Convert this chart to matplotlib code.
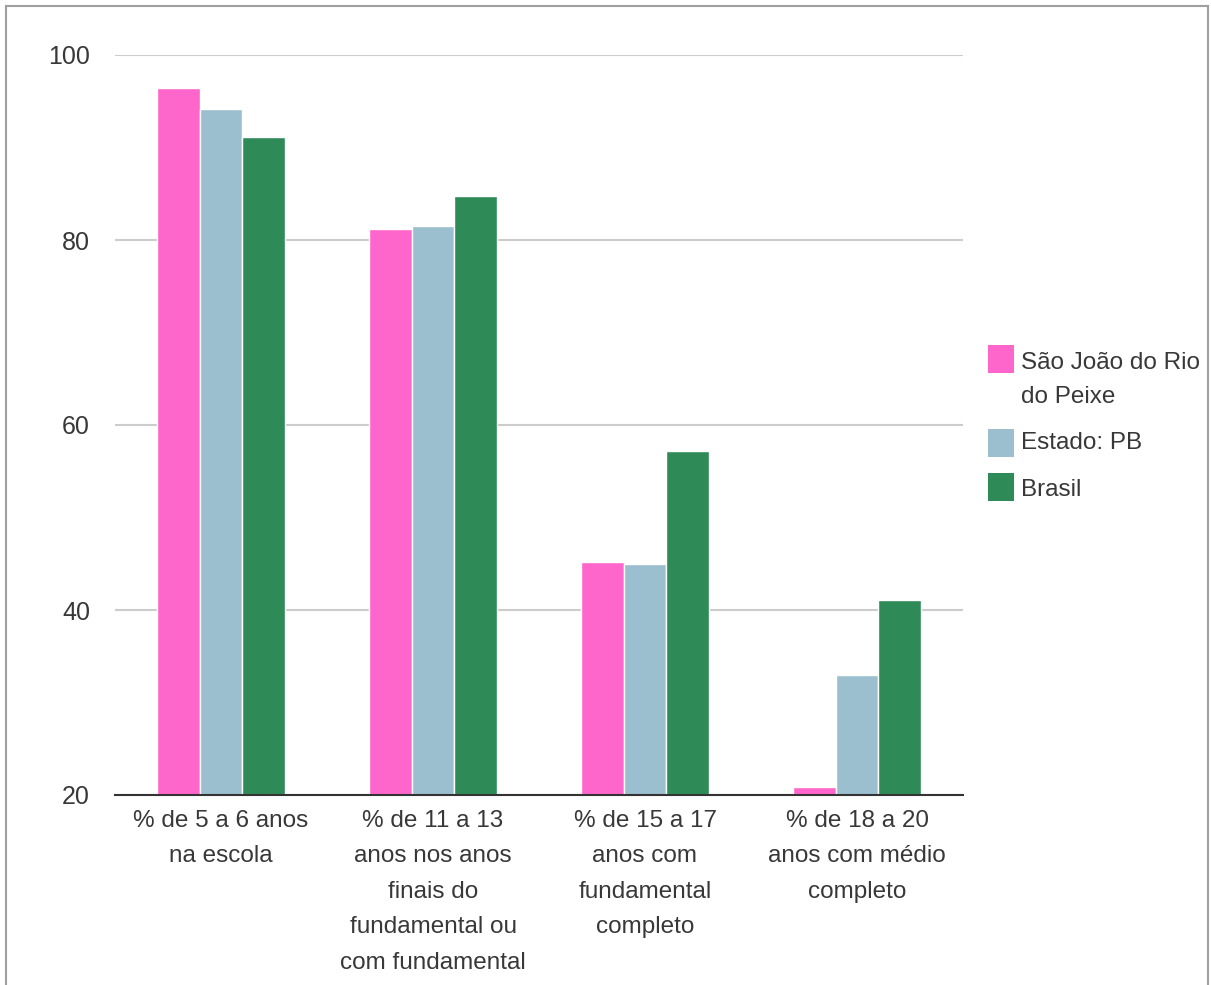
import numpy as np
import matplotlib
matplotlib.use('Agg')
import matplotlib.pyplot as plt
from matplotlib.patches import Rectangle
from matplotlib.lines import Line2D

categories = [
    "% de 5 a 6 anos\nna escola",
    "% de 11 a 13\nanos nos anos\nfinais do\nfundamental ou\ncom fundamental",
    "% de 15 a 17\nanos com\nfundamental\ncompleto",
    "% de 18 a 20\nanos com médio\ncompleto",
]
series = ["São João do Rio\ndo Peixe", "Estado: PB", "Brasil"]
sao_joao = [96.4, 81.2, 45.2, 20.9]
estado_pb = [94.2, 81.5, 45.0, 33.0]
brasil = [91.1, 84.8, 57.2, 41.1]
colors = ["#FF66CC", "#9BBFCE", "#2E8B57"]
yticks = [20, 40, 60, 80, 100]

plt.rcParams['font.family'] = ['Liberation Sans', 'DejaVu Sans']
txt = '#383838'
fs = 17.5

fig = plt.figure(figsize=(12.11, 9.85), dpi=100)
ax = fig.add_axes([115/1211, 1 - 795/985, (963-115)/1211, (795-55)/985])

x = np.arange(len(categories))
w = 0.2
for i, (vals, c) in enumerate(zip([sao_joao, estado_pb, brasil], colors)):
    ax.bar(x + (i - 1) * w, np.array(vals) - 20, width=w, bottom=20,
           color=c, edgecolor='white', linewidth=1, zorder=3)

ax.set_xlim(-0.5, len(categories) - 0.5)
ax.set_ylim(20, 100)
ax.set_yticks(yticks)
ax.set_yticklabels([str(t) for t in yticks], fontsize=18, color=txt)
ax.yaxis.grid(True, color='#CCCCCC', linewidth=1.5, zorder=0)
ax.set_axisbelow(True)
ax.set_xticks(x)
ax.set_xticklabels(categories, fontsize=fs, color=txt, va='top')
for t in ax.get_xticklabels():
    t.set_linespacing(1.8)
ax.tick_params(axis='both', length=0)
ax.tick_params(axis='y', pad=18)
ax.tick_params(axis='x', pad=10.5)
for s in ['top', 'right', 'left']:
    ax.spines[s].set_visible(False)
ax.spines['bottom'].set_color('#333333')
ax.spines['bottom'].set_linewidth(1.5)
ax.spines['bottom'].set_zorder(4)

# legend drawn by hand so that the swatch sits on the first text line
leg_y = [359, 443, 487]
text_y = [360, 440, 487]
for name, c, yy, ty in zip(series, colors, leg_y, text_y):
    fig.patches.append(Rectangle((988/1211, 1 - (yy + 14)/985), 26/1211, 28/985,
                                 transform=fig.transFigure, facecolor=c,
                                 edgecolor='none'))
    fig.text(1021/1211, 1 - (ty - 8)/985, name, fontsize=fs, color=txt,
             va='top', ha='left', linespacing=1.7)

# outer frame
for xs, ys in [([6, 6], [6, 985]), ([6, 1208], [6, 6]), ([1208, 1208], [6, 985])]:
    fig.add_artist(Line2D([v/1211 for v in xs], [1 - v/985 for v in ys],
                          color='#A0A0A0', linewidth=1.5))

fig.savefig('out.png', dpi=100)
